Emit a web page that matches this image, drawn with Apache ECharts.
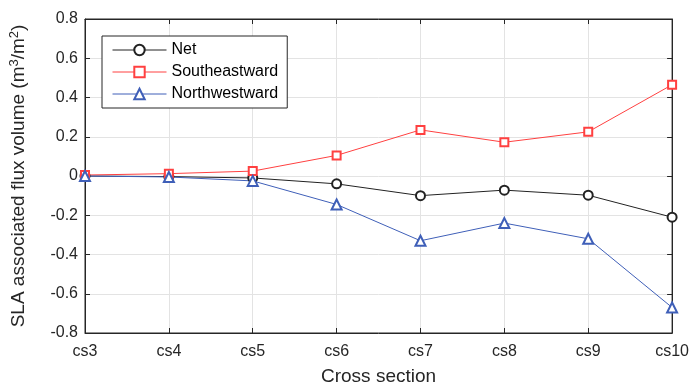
<!DOCTYPE html>
<html><head><meta charset="utf-8">
<script src="https://cdn.jsdelivr.net/npm/echarts@6/dist/echarts.min.js"></script>
<style>html,body{margin:0;padding:0;background:#fff}#c{width:692px;height:391px}</style>
</head><body><div id="c"></div>
<script>
const categories = ['cs3','cs4','cs5','cs6','cs7','cs8','cs9','cs10'];
const netValues = [0.0, -0.003, -0.01, -0.04, -0.10, -0.072, -0.098, -0.21];
const southeastValues = [0.005, 0.012, 0.025, 0.105, 0.235, 0.172, 0.225, 0.465];
const northwestValues = [0.0, -0.005, -0.025, -0.145, -0.33, -0.24, -0.32, -0.67];
const yTicks = [-0.8, -0.6, -0.4, -0.2, 0, 0.2, 0.4, 0.6, 0.8];

const axisColor = '#262626';
const font = 'Liberation Sans, Arial, sans-serif';
const chart = echarts.init(document.getElementById('c'));
const xBase = {
  type: 'category', data: categories, boundaryGap: false,
  axisLine: {show: true, onZero: false, lineStyle: {color: axisColor, width: 1}},
  axisTick: {show: true, inside: true, length: 5, alignWithLabel: true, lineStyle: {color: axisColor}},
  splitLine: {show: false}
};
const yBase = {
  type: 'value', min: yTicks[0], max: yTicks[yTicks.length - 1], interval: 0.2,
  axisLine: {show: true, onZero: false, lineStyle: {color: axisColor, width: 1}},
  axisTick: {show: true, inside: true, length: 5, lineStyle: {color: axisColor}},
  splitLine: {show: false}
};
const netColor = '#222', seColor = '#ff4040', nwColor = '#3f5fb8';
chart.setOption({
  animation: false,
  grid: {left: 84, right: 18, top: 19, bottom: 56, containLabel: false,
    show: true, borderColor: axisColor, borderWidth: 1, backgroundColor: 'transparent'},
  legend: {
    orient: 'vertical', left: 102, top: 36,
    backgroundColor: '#fff', borderColor: axisColor, borderWidth: 1,
    padding: [6, 9, 6, 10], itemGap: 6, itemWidth: 54, itemHeight: 13,
    textStyle: {fontFamily: font, fontSize: 16, color: '#000'},
    itemStyle: {borderWidth: 1},
    lineStyle: {width: 1},
    data: ['Net', 'Southeastward', 'Northwestward']
  },
  xAxis: [
    Object.assign({}, xBase, {
      position: 'bottom',
      axisLabel: {fontFamily: font, fontSize: 16, color: axisColor, margin: 11},
      splitLine: {show: true, lineStyle: {color: '#e3e3e3'}},
      name: 'Cross section', nameLocation: 'middle', nameGap: 34,
      nameTextStyle: {fontFamily: font, fontSize: 19, color: axisColor}
    }),
    Object.assign({}, xBase, {position: 'top', axisLabel: {show: false}})
  ],
  yAxis: [
    Object.assign({}, yBase, {
      position: 'left',
      axisLabel: {fontFamily: font, fontSize: 16, color: axisColor, margin: 7,
        formatter: v => (Math.abs(v) < 1e-9 ? '0' : v.toFixed(1))},
      splitLine: {show: true, lineStyle: {color: '#e3e3e3'}},
      name: 'SLA associated flux volume (m{sup|3}/m{sup|2})',
      nameLocation: 'middle', nameGap: 56, nameRotate: 90,
      nameTextStyle: {fontFamily: font, fontSize: 19, color: axisColor,
        rich: {sup: {fontFamily: font, fontSize: 13, color: axisColor, verticalAlign: 'top', padding: [0,0,8,0]}}}
    }),
    Object.assign({}, yBase, {position: 'right', axisLabel: {show: false}})
  ],
  series: [
    {name: 'Net', type: 'line', data: netValues, symbol: 'emptyCircle', symbolSize: 9,
      itemStyle: {color: netColor, borderWidth: 1}, lineStyle: {color: netColor, width: 1}},
    {name: 'Southeastward', type: 'line', data: southeastValues, symbol: 'emptyRect', symbolSize: 8,
      itemStyle: {color: seColor, borderWidth: 1}, lineStyle: {color: seColor, width: 1}},
    {name: 'Northwestward', type: 'line', data: northwestValues, symbol: 'emptyTriangle', symbolSize: 10,
      itemStyle: {color: nwColor, borderWidth: 1}, lineStyle: {color: nwColor, width: 1}}
  ]
});
</script></body></html>
